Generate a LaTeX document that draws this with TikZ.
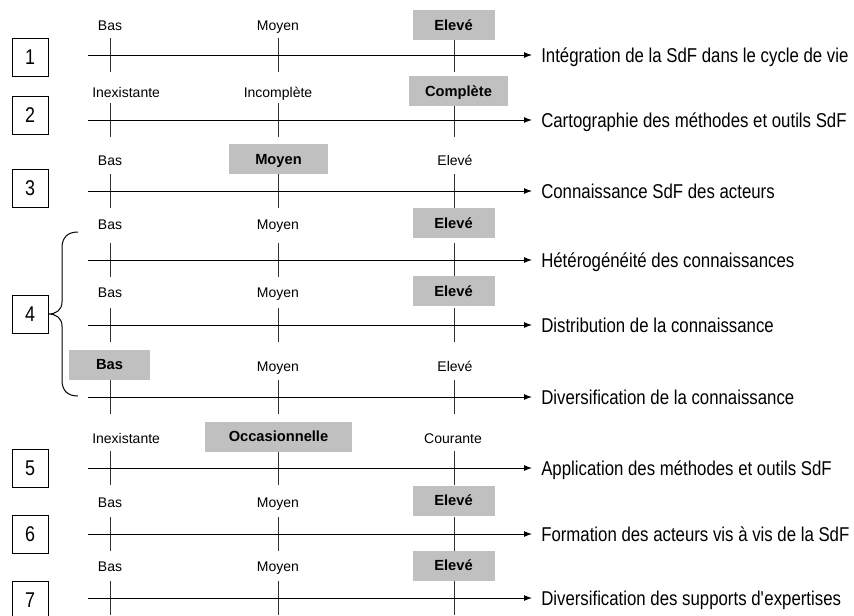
\documentclass[tikz,border=0pt]{standalone}
\usepackage{fontspec}
\setmainfont{Liberation Sans}
\newfontfamily\narrowfont[FakeStretch=0.84]{Liberation Sans}
\usetikzlibrary{arrows.meta}
\definecolor{selgray}{RGB}{192,192,192}
\begin{document}
\begin{tikzpicture}[x=0.75pt,y=-0.75pt,
  level/.style={font=\fontsize{10.5}{12}\selectfont, inner sep=0pt,
    text height=9pt, text depth=1.5pt},
  chosen/.style={fill=selgray, font=\bfseries\fontsize{11}{13}\selectfont,
    inner sep=0pt, minimum height=22.5pt, text height=9.5pt, text depth=1.5pt},
  criterion/.style={anchor=west, inner sep=0pt,
    font=\narrowfont\fontsize{15}{18}\selectfont, text height=13pt, text depth=2.2pt},
  numbox/.style={draw, line width=0.75pt, minimum width=27pt, minimum height=28.5pt,
    inner sep=0pt, font=\narrowfont\fontsize{16}{19}\selectfont},
  axis/.style={line width=0.75pt, -{Latex[length=6pt,width=4.5pt]}},
  tickmark/.style={line width=0.75pt, draw=black!80},
  brace/.style={line width=0.75pt}]
\useasboundingbox (0,0) rectangle (854,615);

% tick marks on every scale
\foreach \y in {55,120,191,260,325,397,468,534,598}
  \foreach \x in {110,278,454}
    \draw[tickmark] (\x,\y-17) -- (\x,\y+17);

% scale levels (the reached level is shaded)
\node[level] (l1a) at (110,25) {Bas};
\node[level] (l1b) at (278,25) {Moyen};
\node[chosen, minimum width=61.5pt] (l1c) at (453.5,25) {Elevé};

\node[level, anchor=west] (l2a) at (92,92) {Inexistante};
\node[level] (l2b) at (278,92) {Incomplète};
\node[chosen, minimum width=74.25pt] (l2c) at (458.5,91) {Complète};

\node[level] (l3a) at (110,160) {Bas};
\node[chosen, minimum width=74.25pt] (l3b) at (278.5,159) {Moyen};
\node[level] (l3c) at (455,160) {Elevé};

\node[level] (l4a) at (110,224) {Bas};
\node[level] (l4b) at (278,224) {Moyen};
\node[chosen, minimum width=61.5pt] (l4c) at (453.5,223) {Elevé};

\node[level] (l5a) at (110,292) {Bas};
\node[level] (l5b) at (278,292) {Moyen};
\node[chosen, minimum width=61.5pt] (l5c) at (453.5,291) {Elevé};

\node[chosen, minimum width=60.75pt] (l6a) at (109.5,364.5) {Bas};
\node[level] (l6b) at (278,366) {Moyen};
\node[level] (l6c) at (455,366) {Elevé};

\node[level, anchor=west] (l7a) at (92,438) {Inexistante};
\node[chosen, minimum width=110.25pt] (l7b) at (278.5,436.5) {Occasionnelle};
\node[level] (l7c) at (453,438) {Courante};

\node[level] (l8a) at (110,502) {Bas};
\node[level] (l8b) at (278,502) {Moyen};
\node[chosen, minimum width=61.5pt] (l8c) at (453.5,500.5) {Elevé};

\node[level] (l9a) at (110,566) {Bas};
\node[level] (l9b) at (278,566) {Moyen};
\node[chosen, minimum width=61.5pt] (l9c) at (453.5,565.5) {Elevé};

% criteria names at the arrow ends
\node[criterion] (c1) at (541,55) {Intégration de la SdF dans le cycle de vie};
\node[criterion] (c2) at (541,120) {Cartographie des méthodes et outils SdF};
\node[criterion] (c3) at (541,191) {Connaissance SdF des acteurs};
\node[criterion] (c4) at (541,260) {Hétérogénéité des connaissances};
\node[criterion] (c5) at (541,325) {Distribution de la connaissance};
\node[criterion] (c6) at (541,397) {Diversification de la connaissance};
\node[criterion] (c7) at (541,468) {Application des méthodes et outils SdF};
\node[criterion] (c8) at (541,534) {Formation des acteurs vis à vis de la SdF};
\node[criterion] (c9) at (541,598) {Diversification des supports d\textquotesingle expertises};

% scale axes
\foreach \i/\y in {1/55,2/120,3/191,4/260,5/325,6/397,7/468,8/534,9/598} {
  \coordinate (s\i) at (88,\y);
  \draw[axis] (s\i) -- ([xshift=-6.75pt]c\i.west);
}

% numbered boxes
\node[numbox] (n1) at (30,57) {1};
\node[numbox] (n2) at (30,115) {2};
\node[numbox] (n3) at (30,188) {3};
\node[numbox] (n4) at (30,314) {4};
\node[numbox] (n5) at (30,468) {5};
\node[numbox] (n6) at (30,534) {6};
\node[numbox] (n7) at (30,600) {7};

% brace grouping the three scales of item 4
\coordinate (bt) at (78,232);
\coordinate (bb) at (78,396);
\draw[brace] (bt) .. controls (67,232) and (62,238) .. (62,248)
  -- (62,302) .. controls (62,310) and (56,314) .. (n4.east)
  .. controls (56,314) and (62,318) .. (62,326)
  -- (62,380) .. controls (62,390) and (67,396) .. (bb);
\end{tikzpicture}
\end{document}
